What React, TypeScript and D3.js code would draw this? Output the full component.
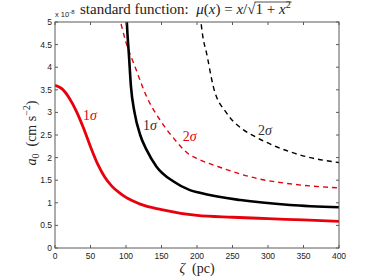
import { useRef, useEffect } from "react";
import * as d3 from "d3";

// zeta (pc) vs a0 (x 1e-8 cm s^-2)
const red1Zeta = [0, 10, 20, 30, 40, 50, 60, 70, 80, 90, 100, 110, 120, 150, 200, 250, 300, 350, 400];
const red1A0 = [3.6, 3.52, 3.32, 3.03, 2.66, 2.24, 1.86, 1.57, 1.37, 1.23, 1.12, 1.04, 0.97, 0.85, 0.72, 0.68, 0.65, 0.62, 0.59];

const black1Zeta = [100.5, 102, 104, 107, 112, 120, 129, 143, 167, 190, 204, 261, 331, 400];
const black1A0 = [5.2, 4.75, 4.3, 3.57, 3.0, 2.5, 2.17, 1.8, 1.47, 1.28, 1.22, 1.06, 0.95, 0.9];

const red2Zeta = [90, 100, 112.7, 129, 148, 167, 190, 200, 237, 284, 331, 400];
const red2A0 = [5.15, 4.55, 4.01, 3.35, 2.83, 2.43, 2.06, 1.98, 1.76, 1.54, 1.42, 1.33];

const black2Zeta = [204.5, 208, 213.6, 223, 242, 265, 280, 312, 354, 400];
const black2A0 = [5.15, 4.7, 4.3, 3.57, 2.98, 2.62, 2.48, 2.24, 2.02, 1.89];

const xTicks = [0, 50, 100, 150, 200, 250, 300, 350, 400];
const yTicks = [0, 0.5, 1, 1.5, 2, 2.5, 3, 3.5, 4, 4.5, 5];

const COLORS = {
  red: "#e8000b",
  black: "#000000",
  axis: "#5a5a5a",
  text: "#222222",
};

const SERIF = "'Liberation Serif', 'DejaVu Serif', serif";
const SANS = "'Liberation Sans', Arial, sans-serif";

export default function App() {
  const svgRef = useRef<SVGSVGElement>(null);

  useEffect(() => {
    if (!svgRef.current) return;
    const width = 374;
    const height = 280;
    const svg = d3.select(svgRef.current);
    svg.selectAll("*").remove();
    svg.attr("width", width).attr("height", height).attr("viewBox", `0 0 ${width} ${height}`);

    const margin = { top: 22, right: 35, bottom: 32, left: 55 };
    const w = width - margin.left - margin.right;
    const h = height - margin.top - margin.bottom;

    const g = svg.append("g").attr("transform", `translate(${margin.left},${margin.top})`);

    const x = d3.scaleLinear().domain([0, 400]).range([0, w]);
    const y = d3.scaleLinear().domain([0, 5]).range([h, 0]);

    svg
      .append("defs")
      .append("clipPath")
      .attr("id", "plot-clip")
      .append("rect")
      .attr("width", w)
      .attr("height", h);

    const line = d3
      .line<[number, number]>()
      .x((d) => x(d[0]))
      .y((d) => y(d[1]))
      .curve(d3.curveMonotoneX);

    const series = [
      { zeta: red2Zeta, a0: red2A0, color: COLORS.red, width: 1.4, dash: "5,4" },
      { zeta: black2Zeta, a0: black2A0, color: COLORS.black, width: 1.4, dash: "5,4" },
      { zeta: red1Zeta, a0: red1A0, color: COLORS.red, width: 2.8, dash: null },
      { zeta: black1Zeta, a0: black1A0, color: COLORS.black, width: 2.6, dash: null },
    ];

    const curves = g.append("g").attr("clip-path", "url(#plot-clip)");
    series.forEach((s) => {
      const pts = s.zeta.map((z, i) => [z, s.a0[i]] as [number, number]);
      curves
        .append("path")
        .datum(pts)
        .attr("fill", "none")
        .attr("stroke", s.color)
        .attr("stroke-width", s.width)
        .attr("stroke-dasharray", s.dash)
        .attr("d", line);
    });

    // Frame + inward ticks
    const tl = 3;
    const frame = g.append("g").attr("stroke", COLORS.axis).attr("stroke-width", 1);
    frame.append("rect").attr("width", w).attr("height", h).attr("fill", "none");
    xTicks.forEach((t) => {
      frame.append("line").attr("x1", x(t)).attr("x2", x(t)).attr("y1", h).attr("y2", h - tl);
      frame.append("line").attr("x1", x(t)).attr("x2", x(t)).attr("y1", 0).attr("y2", tl);
    });
    yTicks.forEach((t) => {
      frame.append("line").attr("x1", 0).attr("x2", tl).attr("y1", y(t)).attr("y2", y(t));
      frame.append("line").attr("x1", w).attr("x2", w - tl).attr("y1", y(t)).attr("y2", y(t));
    });

    g.append("g")
      .selectAll("text")
      .data(xTicks)
      .enter()
      .append("text")
      .attr("x", (d) => x(d))
      .attr("y", h + 11)
      .attr("text-anchor", "middle")
      .attr("font-family", SANS)
      .attr("font-size", "8.5px")
      .attr("fill", COLORS.text)
      .text((d) => d);

    g.append("g")
      .selectAll("text")
      .data(yTicks)
      .enter()
      .append("text")
      .attr("x", -3)
      .attr("y", (d) => y(d) + 3)
      .attr("text-anchor", "end")
      .attr("font-family", SANS)
      .attr("font-size", "8.5px")
      .attr("fill", COLORS.text)
      .text((d) => d);

    // exponent
    const ex = svg
      .append("text")
      .attr("x", 55)
      .attr("y", 17)
      .attr("font-family", SANS)
      .attr("font-size", "7.5px")
      .attr("fill", COLORS.text);
    ex.append("tspan").text("x 10");
    ex.append("tspan").attr("dy", -3).attr("font-size", "6px").text("-8");

    // Title
    const title = svg
      .append("text")
      .attr("x", 80)
      .attr("y", 13.5)
      .attr("font-family", SERIF)
      .attr("font-size", "15px")
      .attr("fill", COLORS.text)
      .style("white-space", "pre");
    title.append("tspan").text("standard function:  ");
    title.append("tspan").attr("font-style", "italic").text("μ");
    title.append("tspan").text("(");
    title.append("tspan").attr("font-style", "italic").text("x");
    title.append("tspan").text(") = ");
    title.append("tspan").attr("font-style", "italic").text("x");
    title.append("tspan").text("/√");
    const rad = title.append("tspan").text("1 + ");
    title.append("tspan").attr("font-style", "italic").text("x");
    const sup = title.append("tspan").attr("dy", -6).attr("font-size", "10px").text("2");
    const n1 = rad.node() as SVGTextContentElement;
    const n2 = sup.node() as SVGTextContentElement;
    const x0 = n1.getStartPositionOfChar(0).x;
    const x1 = n2.getEndPositionOfChar(0).x;
    svg
      .append("line")
      .attr("x1", x0 - 1)
      .attr("x2", x1 + 1)
      .attr("y1", 2)
      .attr("y2", 2)
      .attr("stroke", COLORS.text)
      .attr("stroke-width", 0.8);

    // Axis labels
    const xl = svg
      .append("text")
      .attr("x", margin.left + w / 2)
      .attr("y", 273)
      .attr("text-anchor", "middle")
      .attr("font-family", SERIF)
      .attr("font-size", "14px")
      .attr("fill", COLORS.text)
      .style("white-space", "pre");
    xl.append("tspan").attr("font-style", "italic").text("ζ");
    xl.append("tspan").text("  (pc)");

    const yl = svg
      .append("text")
      .attr("transform", `translate(36,${margin.top + h / 2 - 2}) rotate(-90)`)
      .attr("text-anchor", "middle")
      .attr("font-family", SERIF)
      .attr("font-size", "14px")
      .attr("fill", COLORS.text)
      .style("white-space", "pre");
    yl.append("tspan").attr("font-style", "italic").text("a");
    yl.append("tspan").attr("dy", 3).attr("font-size", "10px").text("0");
    yl.append("tspan").attr("dy", -3).text("  (cm s");
    yl.append("tspan").attr("dy", -6).attr("font-size", "10px").text("−2");
    yl.append("tspan").attr("dy", 6).text(")");

    // Curve labels
    const labels = [
      { zeta: 39.5, a0: 2.83, text: "1", color: COLORS.red },
      { zeta: 124, a0: 2.61, text: "1", color: COLORS.black },
      { zeta: 180, a0: 2.36, text: "2", color: COLORS.red },
      { zeta: 286, a0: 2.5, text: "2", color: COLORS.black },
    ];
    labels.forEach((l) => {
      const t = g
        .append("text")
        .attr("x", x(l.zeta))
        .attr("y", y(l.a0))
        .attr("font-family", SERIF)
        .attr("font-size", "14px")
        .attr("fill", l.color === COLORS.black ? "#333" : l.color);
      t.append("tspan").text(l.text);
      t.append("tspan").attr("font-style", "italic").text("σ");
    });
  }, []);

  return (
    <svg
      ref={svgRef}
      style={{ position: "absolute", left: 0, top: 0, background: "#fff" }}
    />
  );
}
